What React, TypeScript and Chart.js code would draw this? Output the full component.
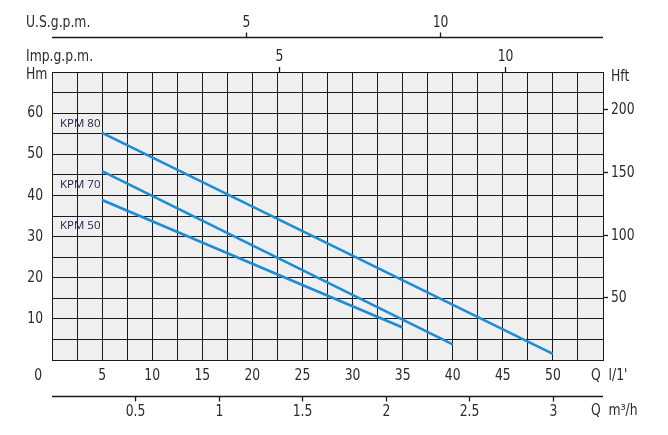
import React, { useEffect, useRef } from "react";
import { Chart, registerables } from "chart.js";

Chart.register(...registerables);

// ---- data ----
const seriesNames = ["KPM 80", "KPM 70", "KPM 50"];
const flow80 = [5, 50];
const head80 = [55.2, 1.5];
const flow70 = [5, 40];
const head70 = [45.9, 3.8];
const flow50 = [5, 35];
const head50 = [38.9, 7.9];

const flowTicks = [5, 10, 15, 20, 25, 30, 35, 40, 45, 50];
const headTicks = [10, 20, 30, 40, 50, 60];
const feetTicks = [50, 100, 150, 200];
const m3hTicks = [0.5, 1, 1.5, 2, 2.5, 3];
const usTicks = [5, 10];
const impTicks = [5, 10];

const FLOW_MAX = 55;
const HEAD_MAX = 70;
const FEET_PER_M = 3.28084;
const M3H_MAX = 3.3;
const US_MAX = 14.2;
const IMP_MAX = 12.16;

const FONT = "'DejaVu Sans Condensed', 'DejaVu Sans', sans-serif";
const TEXT = "#2b2b2b";
const LINE = "#1b8dd6";
const SQUEEZE = 0.86;

const toPts = (xs: number[], ys: number[]) => xs.map((x, i) => ({ x, y: ys[i] }));

function txt(ctx: CanvasRenderingContext2D, s: string, x: number, y: number) {
  ctx.save();
  ctx.translate(x, y);
  ctx.scale(SQUEEZE, 1);
  ctx.fillText(s, 0, 0);
  ctx.restore();
}

const overlay = {
  id: "overlay",
  beforeDraw(chart: any) {
    const { ctx, chartArea: a } = chart;
    ctx.save();
    ctx.fillStyle = "#efefef";
    ctx.fillRect(a.left, a.top, a.right - a.left, a.bottom - a.top);
    ctx.restore();
  },
  afterDraw(chart: any) {
    const { ctx, chartArea: a, scales } = chart;
    const sx = scales.x, sy = scales.y, sft = scales.yft;
    const sm3 = scales.xm3, sus = scales.xus, simp = scales.ximp;
    ctx.save();
    ctx.fillStyle = TEXT;
    ctx.strokeStyle = "#1a1a1a";
    ctx.lineWidth = 1.3;
    ctx.font = `16px ${FONT}`;
    ctx.textBaseline = "middle";

    // left head labels
    ctx.textAlign = "right";
    headTicks.forEach((v) => txt(ctx, String(v), a.left - 9, sy.getPixelForValue(v)));
    ctx.textAlign = "left";
    txt(ctx, "Hm", 26, a.top + 3);

    // right feet axis
    feetTicks.forEach((v) => {
      const y = Math.round(sft.getPixelForValue(v)) + 0.5;
      ctx.beginPath();
      ctx.moveTo(a.right, y);
      ctx.lineTo(a.right + 5, y);
      ctx.stroke();
      txt(ctx, String(v), a.right + 8, y);
    });
    txt(ctx, "Hft", a.right + 8, a.top + 5);

    // bottom flow l/min
    ctx.textAlign = "center";
    flowTicks.forEach((v) => txt(ctx, String(v), sx.getPixelForValue(v), a.bottom + 16));
    ctx.textAlign = "right";
    txt(ctx, "0", a.left - 10, a.bottom + 16);
    ctx.textAlign = "left";
    txt(ctx, "Q  l/1'", 591, a.bottom + 16);

    // m3/h axis
    const yM = 396.5;
    ctx.beginPath();
    ctx.moveTo(a.left, yM);
    ctx.lineTo(a.right, yM);
    ctx.stroke();
    ctx.textAlign = "center";
    m3hTicks.forEach((v) => {
      const x = Math.round(sm3.getPixelForValue(v)) + 0.5;
      ctx.beginPath();
      ctx.moveTo(x, yM);
      ctx.lineTo(x, yM + 5);
      ctx.stroke();
      txt(ctx, String(v), x, yM + 15);
    });
    ctx.textAlign = "left";
    txt(ctx, "Q  m\u00b3/h", 591, yM + 14);

    // US gpm axis
    const yU = 37.5;
    ctx.beginPath();
    ctx.moveTo(a.left, yU);
    ctx.lineTo(a.right, yU);
    ctx.stroke();
    ctx.textAlign = "center";
    usTicks.forEach((v) => {
      const x = Math.round(sus.getPixelForValue(v)) + 0.5;
      ctx.beginPath();
      ctx.moveTo(x, yU);
      ctx.lineTo(x, yU - 5);
      ctx.stroke();
      txt(ctx, String(v), x, yU - 15);
    });
    ctx.textAlign = "left";
    txt(ctx, "U.S.g.p.m.", 26, yU - 15);

    // Imp gpm axis (on top edge)
    ctx.textAlign = "center";
    impTicks.forEach((v) => {
      const x = Math.round(simp.getPixelForValue(v)) + 0.5;
      ctx.beginPath();
      ctx.moveTo(x, a.top);
      ctx.lineTo(x, a.top - 5);
      ctx.stroke();
      txt(ctx, String(v), x, a.top - 15);
    });
    ctx.textAlign = "left";
    txt(ctx, "Imp.g.p.m.", 26, a.top - 15);

    // series labels
    ctx.font = `11.5px 'Open Sans', 'Liberation Sans', sans-serif`;
    ctx.fillStyle = "#1a2148";
    const labelY = [57.5, 42.6, 32.6];
    seriesNames.forEach((n, i) => ctx.fillText(n, sx.getPixelForValue(0.8), sy.getPixelForValue(labelY[i])));
    ctx.restore();
  },
};

export default function App() {
  const ref = useRef<HTMLCanvasElement>(null);
  useEffect(() => {
    if (!ref.current) return;
    const ds = (data: any) => ({
      data,
      borderColor: LINE,
      borderWidth: 2.6,
      pointRadius: 0,
      showLine: true,
      fill: false,
      tension: 0,
    });
    const chart = new Chart(ref.current, {
      type: "scatter",
      data: {
        datasets: [
          { label: seriesNames[0], ...ds(toPts(flow80, head80)) },
          { label: seriesNames[1], ...ds(toPts(flow70, head70)) },
          { label: seriesNames[2], ...ds(toPts(flow50, head50)) },
        ],
      },
      options: {
        animation: false,
        responsive: false,
        layout: { padding: { left: 52, top: 72, right: 65, bottom: 75 } },
        plugins: { legend: { display: false }, tooltip: { enabled: false } },
        scales: {
          x: {
            type: "linear",
            min: 0,
            max: FLOW_MAX,
            ticks: { display: false, stepSize: 2.5 },
            grid: { color: "#1a1a1a", lineWidth: 1, drawTicks: false },
            border: { color: "#1a1a1a", width: 1 },
          },
          y: {
            type: "linear",
            min: 0,
            max: HEAD_MAX,
            ticks: { display: false, stepSize: 5 },
            grid: { color: "#1a1a1a", lineWidth: 1, drawTicks: false },
            border: { color: "#1a1a1a", width: 1 },
          },
          yft: { type: "linear", display: false, position: "right", min: 0, max: HEAD_MAX * FEET_PER_M },
          xm3: { type: "linear", display: false, position: "bottom", min: 0, max: M3H_MAX },
          xus: { type: "linear", display: false, position: "top", min: 0, max: US_MAX },
          ximp: { type: "linear", display: false, position: "top", min: 0, max: IMP_MAX },
        },
      } as any,
      plugins: [overlay],
    });
    return () => chart.destroy();
  }, []);
  return (
    <div style={{ position: "fixed", left: 0, top: 0, width: 668, height: 435, background: "#fff" }}>
      <canvas ref={ref} width={668} height={435} style={{ width: 668, height: 435 }} />
    </div>
  );
}
